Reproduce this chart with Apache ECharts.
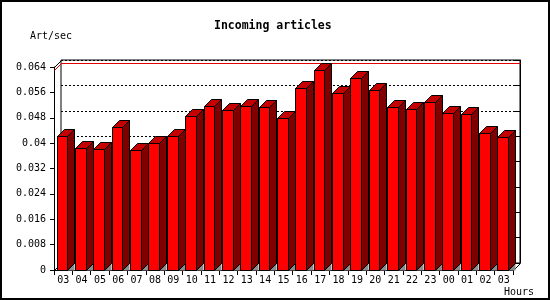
<!DOCTYPE html>
<html>
<head>
<meta charset="utf-8">
<script src="https://cdn.jsdelivr.net/npm/echarts@6/dist/echarts.min.js"></script>
<style>
  html, body { margin: 0; padding: 0; background: #fff; }
  #chart { width: 550px; height: 300px; }
</style>
</head>
<body>
<div id="chart"></div>
<script>
const hours = ['03','04','05','06','07','08','09','10','11','12','13','14','15','16','17','18','19','20','21','22','23','00','01','02','03'];
const artPerSec = [0.0423,0.0384,0.0381,0.0451,0.0379,0.0400,0.0423,0.0485,0.0517,0.0504,0.0517,0.0514,0.0479,0.0574,0.0631,0.0558,0.0605,0.0567,0.0514,0.0507,0.0530,0.0495,0.0492,0.0432,0.0419];
const yMin = 0, yMax = 0.064, yStep = 0.008;

const FONT = 'DejaVu Sans Mono';
const D = 7; // 3D depth in px
const px = v => Math.round(v) + 0.5;

const chart = echarts.init(document.getElementById('chart'), null, { renderer: 'canvas' });

function renderBar(params, api) {
  const i = api.value(0), v = api.value(1);
  const top = api.coord([i, v]);
  const base = api.coord([i, 0]);
  const bw = api.size([1, 0])[0];
  const x0 = px(top[0] - bw / 2 + bw * 0.147);
  const x1 = px(top[0] - bw / 2 + bw * 0.147 + bw * 0.58);
  const yt = px(top[1]);
  const y0 = px(base[1]);
  return {
    type: 'group',
    children: [
      { type: 'polygon', shape: { points: [[x1, y0], [x1 + D, y0 - D], [x1 + D, y0]] },
        style: { fill: '#8c8c8c', stroke: null } },
      { type: 'polygon', shape: { points: [[x1, yt], [x1 + D, yt - D], [x1 + D, y0 - D], [x1, y0]] },
        style: { fill: '#800000', stroke: '#000', lineWidth: 1 } },
      { type: 'polygon', shape: { points: [[x0, yt], [x0 + D, yt - D], [x1 + D, yt - D], [x1, yt]] },
        style: { fill: '#c40000', stroke: '#000', lineWidth: 1 } },
      { type: 'rect', shape: { x: x0, y: yt, width: x1 - x0, height: y0 - yt },
        style: { fill: '#ff0000', stroke: '#000', lineWidth: 1 } }
    ]
  };
}

function renderFrame(params, api) {
  const cs = params.coordSys;
  const l = px(cs.x), t = px(cs.y), r = px(cs.x + cs.width), b = px(cs.y + cs.height);
  const ym = px(api.coord([0, api.value(1)])[1]);
  return {
    type: 'group',
    children: [
      { type: 'line', shape: { x1: l, y1: t, x2: l + D, y2: t - D }, style: { stroke: '#000', lineWidth: 1 } },
      { type: 'line', shape: { x1: l, y1: b, x2: l + D, y2: b - D }, style: { stroke: '#000', lineWidth: 1 } },
      { type: 'line', shape: { x1: r, y1: b, x2: r + D, y2: b - D }, style: { stroke: '#000', lineWidth: 1 } },
      { type: 'polyline', shape: { points: [[l, ym], [l + D, ym - D], [r + D, ym - D]] },
        style: { stroke: '#e00000', lineWidth: 1, fill: null } }
    ]
  };
}

const option = {
  backgroundColor: '#fff',
  animation: false,
  title: [
    { text: 'Incoming articles', left: 214, top: 20, padding: 0,
      textStyle: { fontFamily: FONT, fontSize: 11.5, fontWeight: 'bold', color: '#000' } },
    { text: 'Art/sec', left: 30, top: 31, padding: 0,
      textStyle: { fontFamily: FONT, fontSize: 10, fontWeight: 'normal', color: '#000' } },
    { text: 'Hours', left: 504, top: 287, padding: 0,
      textStyle: { fontFamily: FONT, fontSize: 10, fontWeight: 'normal', color: '#000' } }
  ],
  grid: [
    { left: 54, right: 37, top: 67, bottom: 30, containLabel: false },
    { left: 54 + D, right: 37 - D, top: 67 - D, bottom: 30 + D, show: true,
      borderColor: '#000', borderWidth: 1, backgroundColor: 'transparent' }
  ],
  xAxis: [
    { type: 'category', gridIndex: 0, data: hours, boundaryGap: true,
      axisLine: { show: true, lineStyle: { color: '#000', width: 1 } },
      axisTick: { show: true, length: 5, inside: false, alignWithLabel: false, lineStyle: { color: '#000' } },
      axisLabel: { show: true, interval: 0, margin: 5, color: '#000', fontFamily: FONT, fontSize: 10 },
      splitLine: { show: false } },
    { type: 'value', gridIndex: 1, show: false, min: 0, max: 1 }
  ],
  yAxis: [
    { type: 'value', gridIndex: 0, min: yMin, max: yMax, interval: yStep,
      axisLine: { show: true, lineStyle: { color: '#000', width: 1 } },
      axisTick: { show: true, length: 4, lineStyle: { color: '#000' } },
      axisLabel: { show: true, margin: 8, color: '#000', fontFamily: FONT, fontSize: 10 },
      splitLine: { show: false } },
    { type: 'value', gridIndex: 1, min: yMin, max: yMax, interval: yStep,
      axisLine: { show: false }, axisTick: { show: false }, axisLabel: { show: false },
      splitLine: { show: true, lineStyle: { color: '#000', type: [2, 2], width: 1 } } },
    { type: 'value', gridIndex: 1, position: 'right', min: yMin, max: yMax, interval: yStep,
      axisLine: { show: true, lineStyle: { color: '#000', width: 1 } },
      axisTick: { show: true, inside: true, length: 5, lineStyle: { color: '#000' } },
      axisLabel: { show: false }, splitLine: { show: false } }
  ],
  series: [
    { type: 'custom', name: 'frame', xAxisIndex: 0, yAxisIndex: 0, z: 1, silent: true,
      renderItem: renderFrame,
      data: [[0, Math.max.apply(null, artPerSec)]] },
    { type: 'custom', name: 'Art/sec', xAxisIndex: 0, yAxisIndex: 0, z: 3,
      renderItem: renderBar,
      encode: { x: 0, y: 1 },
      data: artPerSec.map((v, i) => [i, v]) }
  ],
  graphic: [
    { type: 'rect', silent: true, z: 100,
      shape: { x: 1, y: 1, width: 548, height: 298 },
      style: { fill: 'none', stroke: '#000', lineWidth: 2 } }
  ]
};

chart.setOption(option);
</script>
</body>
</html>
